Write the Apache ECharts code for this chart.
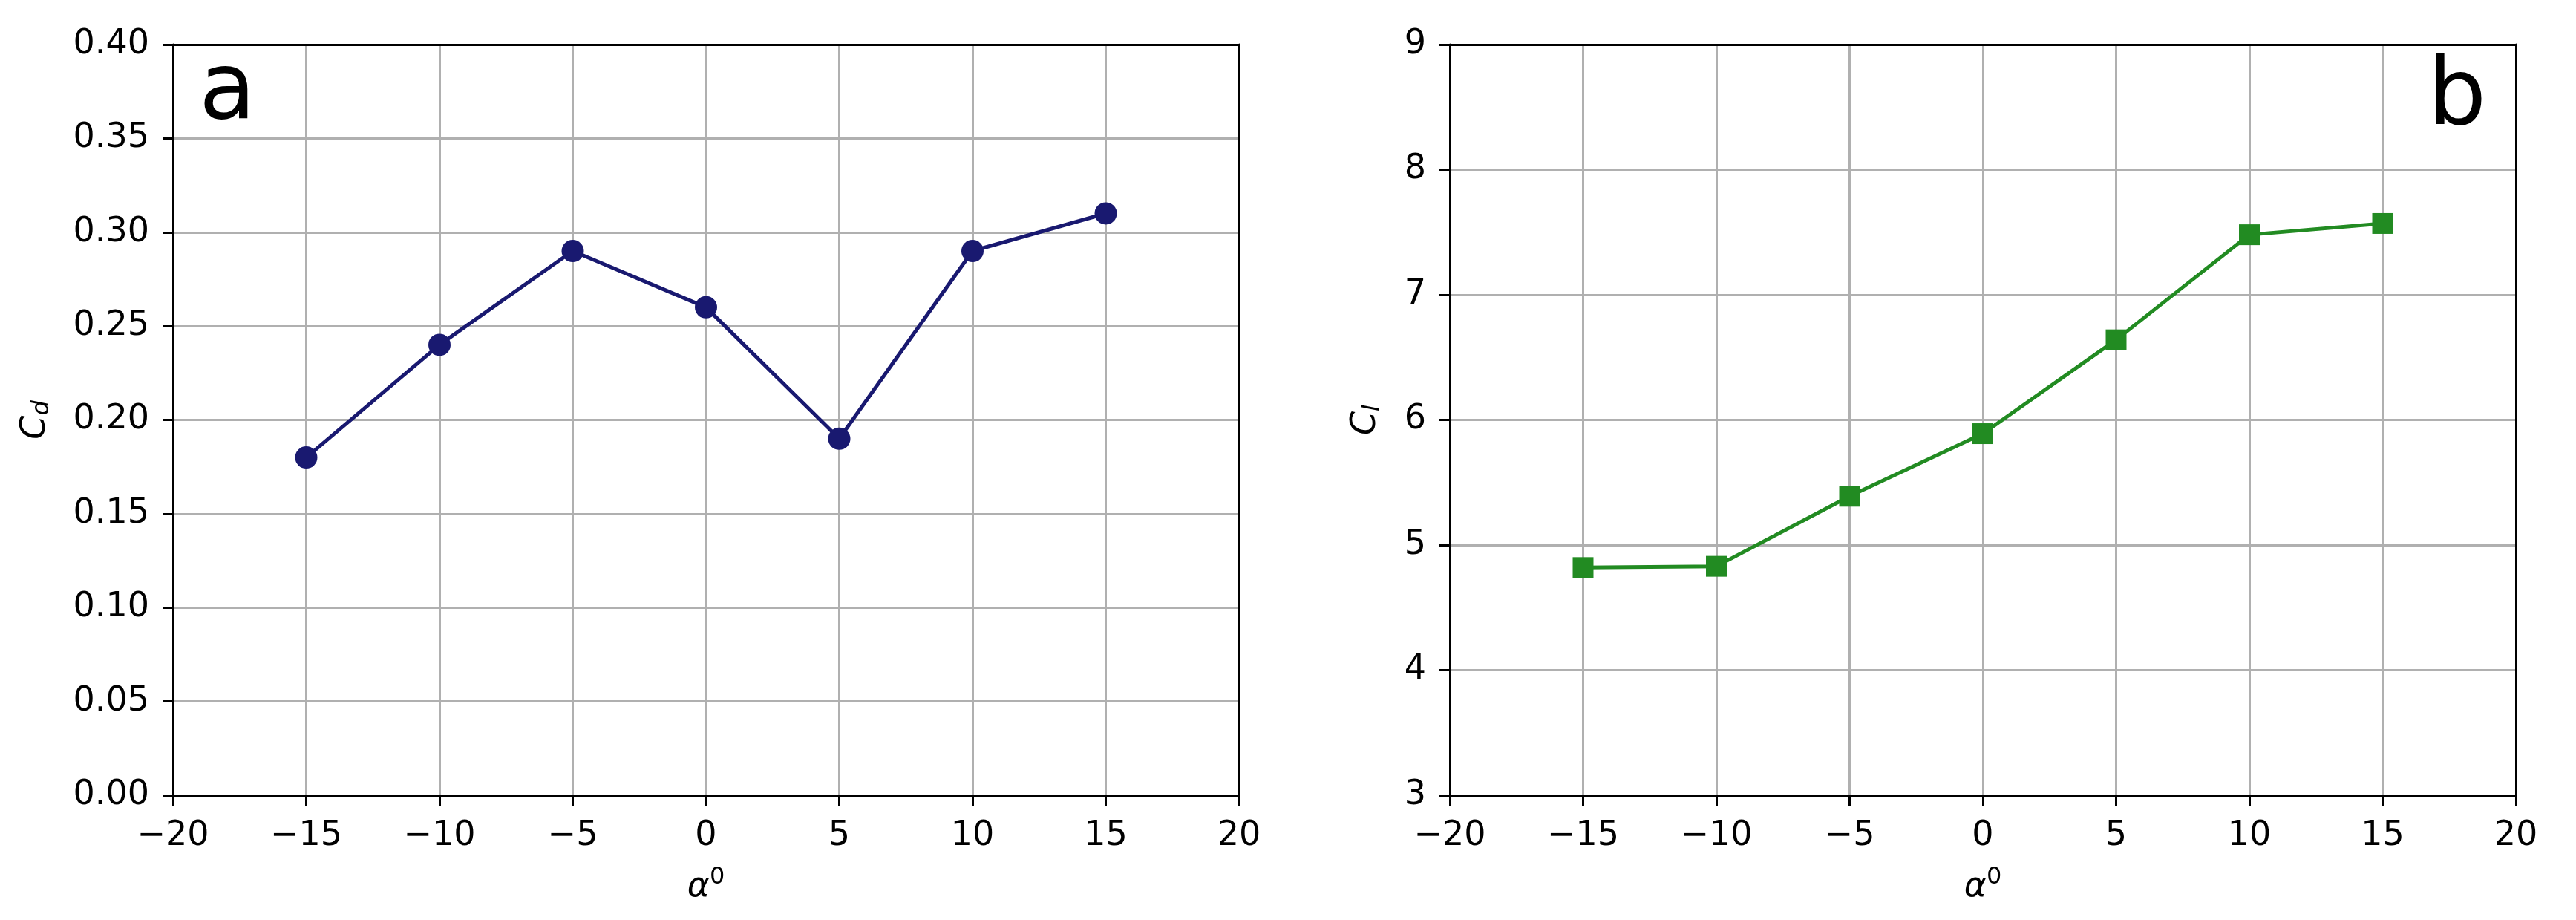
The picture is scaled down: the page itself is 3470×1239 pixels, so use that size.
<!DOCTYPE html>
<html><head><meta charset="utf-8">
<script src="https://cdn.jsdelivr.net/npm/echarts@6/dist/echarts.min.js"></script>
<style>html,body{margin:0;padding:0;background:#fff}#c{width:3470px;height:1239px}</style>
</head><body><div id="c"></div>
<script>
const alpha = [-15, -10, -5, 0, 5, 10, 15];
const cd = [0.18, 0.24, 0.29, 0.26, 0.19, 0.29, 0.31];
const cl = [4.82, 4.83, 5.39, 5.89, 6.64, 7.48, 7.57];
const chart = echarts.init(document.getElementById('c'));
const F = 'DejaVu Sans';
const line = {show:true,onZero:false,lineStyle:{color:'#000',width:3}};
const tick = {show:true,length:14,lineStyle:{color:'#000',width:3}};
const grayLine = {show:true,lineStyle:{color:'#b0b0b0',width:3}};
function xAxis(i){return {gridIndex:i,type:'value',min:-20,max:20,interval:5,
  name:'{a|α}{s|0}',nameLocation:'middle',nameGap:95,
  nameTextStyle:{rich:{a:{fontFamily:F,fontSize:46,fontStyle:'italic',color:'#000'},s:{fontFamily:F,fontSize:32,color:'#000',verticalAlign:'top',padding:[0,0,26,0]}}},
  axisLine:line,axisTick:tick,
  axisLabel:{formatter:v=>String(v).replace('-','−'),fontFamily:F,fontSize:46,color:'#000',margin:32},
  splitLine:grayLine};}
function xTop(i){return {gridIndex:i,type:'value',position:'top',min:-20,max:20,interval:5,
  axisLine:line,axisTick:{show:false},axisLabel:{show:false},splitLine:{show:false}};}
function yAxis(i,min,max,iv,fmt,sub,gap){return {gridIndex:i,type:'value',min:min,max:max,interval:iv,
  name:'{a|C}{s|'+sub+'}',nameLocation:'middle',nameGap:gap,nameRotate:90,
  nameTextStyle:{rich:{a:{fontFamily:F,fontSize:46,fontStyle:'italic',color:'#000'},s:{fontFamily:F,fontSize:32,fontStyle:'italic',color:'#000',verticalAlign:'bottom',padding:[18,0,0,0]}}},
  axisLine:line,axisTick:tick,
  axisLabel:{formatter:v=>fmt?v.toFixed(2):String(v),fontFamily:F,fontSize:46,color:'#000',margin:32},
  splitLine:grayLine};}
function yRight(i,min,max,iv){return {gridIndex:i,type:'value',position:'right',min:min,max:max,interval:iv,
  axisLine:line,axisTick:{show:false},axisLabel:{show:false},splitLine:{show:false}};}
chart.setOption({
  animation:false,
  grid:[{left:233,top:60,width:1436,height:1011},
        {left:1953,top:60,width:1436,height:1011}],
  xAxis:[xAxis(0),xAxis(1),xTop(0),xTop(1)],
  yAxis:[yAxis(0,0,0.4,0.05,true,'d',160),yAxis(1,3,9,1,false,'l',88),yRight(0,0,0.4,0.05),yRight(1,3,9,1)],
  graphic:[
    {type:'text',left:268,top:64,style:{text:'a',fontFamily:F,fontSize:125,fill:'#000'}},
    {type:'text',left:3270,top:72,style:{text:'b',fontFamily:F,fontSize:125,fill:'#000'}}
  ],
  series:[
    {type:'line',xAxisIndex:0,yAxisIndex:0,data:alpha.map((a,i)=>[a,cd[i]]),symbol:'circle',symbolSize:30,
      lineStyle:{color:'#191970',width:5},itemStyle:{color:'#191970'}},
    {type:'line',xAxisIndex:1,yAxisIndex:1,data:alpha.map((a,i)=>[a,cl[i]]),symbol:'rect',symbolSize:28,
      lineStyle:{color:'#228b22',width:5},itemStyle:{color:'#228b22'}}
  ]
});
</script></body></html>
